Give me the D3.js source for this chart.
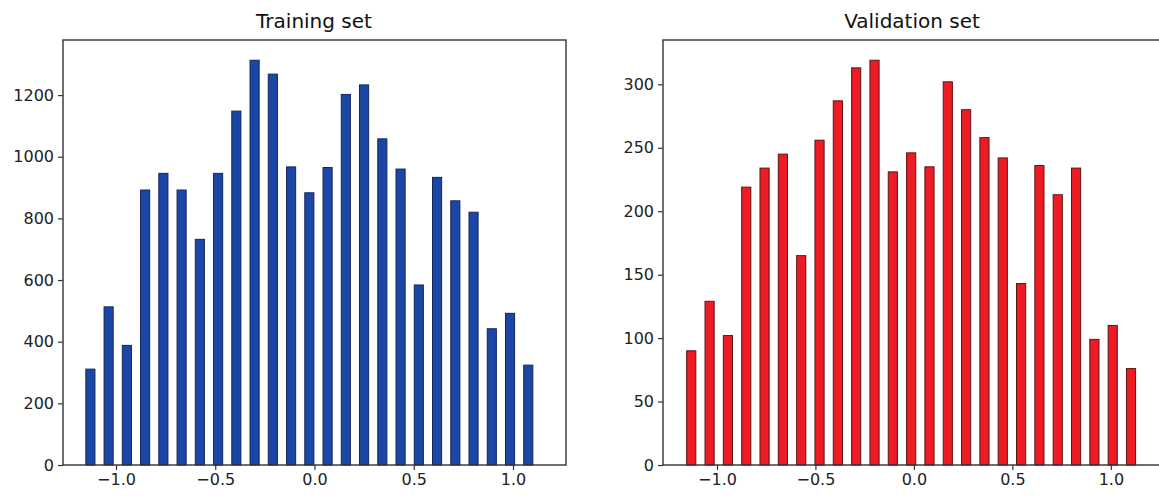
<!DOCTYPE html>
<html>
<head>
<meta charset="utf-8">
<script src="https://cdn.jsdelivr.net/npm/d3@7"></script>
<style>
  html, body { margin: 0; padding: 0; background: #fff; }
  svg { display: block; }
  .title { font-family: "DejaVu Sans", sans-serif; font-size: 20px; fill: #111; }
  .axis text { font-family: "DejaVu Sans", sans-serif; font-size: 16px; fill: #222; }
  .axis path, .axis line { stroke: #333; stroke-width: 1.2px; }
</style>
</head>
<body>
<svg id="chart" width="1159" height="499"></svg>
<script>
// Histogram counts per bin (25 bins each)
const trainCounts = [311, 513, 388, 892, 946, 892, 732, 946, 1148, 1313, 1268, 967, 883,
                     965, 1202, 1233, 1058, 960, 584, 933, 857, 820, 442, 492, 324];
const valCounts = [90, 129, 102, 219, 234, 245, 165, 256, 287, 313, 319, 231, 246,
                   235, 302, 280, 258, 242, 143, 236, 213, 234, 99, 110, 76];

// Histogram bin ranges [first edge, last edge]
const trainBinRange = [-1.175, 1.123];
const valBinRange = [-1.177, 1.149];
const binCount = 25;

// Tick values
const xTicks = [-1.0, -0.5, 0.0, 0.5, 1.0];
const trainYTicks = [0, 200, 400, 600, 800, 1000, 1200];
const valYTicks = [0, 50, 100, 150, 200, 250, 300];

const titles = ["Training set", "Validation set"];

const svg = d3.select("#chart");

const panels = [
  { title: titles[0], counts: trainCounts, range: trainBinRange, yTicks: trainYTicks,
    left: 63, right: 566, titleX: 314, xDomain: [-1.267, 1.267], fill: "#1c46a6", edge: "#14265e" },
  { title: titles[1], counts: valCounts, range: valBinRange, yTicks: valYTicks,
    left: 663, right: 1166, titleX: 912, xDomain: [-1.274, 1.28], fill: "#ec1b24", edge: "#5e1414" }
];

const plotTop = 40, plotBottom = 465;
const rwidth = 0.5;

panels.forEach(p => {
  const g = svg.append("g");
  const x = d3.scaleLinear().domain(p.xDomain).range([p.left, p.right]);
  const y = d3.scaleLinear().domain([0, d3.max(p.counts) * 1.05]).range([plotBottom, plotTop]);

  const binW = (p.range[1] - p.range[0]) / binCount;
  const bins = p.counts.map((c, i) => {
    const x0 = p.range[0] + i * binW;
    return { x0, x1: x0 + binW, count: c };
  });

  // bars, each occupying the middle half of its bin
  g.selectAll("rect.bar")
    .data(bins)
    .join("rect")
    .attr("class", "bar")
    .attr("x", d => x(d.x0 + binW * (1 - rwidth) / 2))
    .attr("width", d => x(d.x0 + binW * (1 + rwidth) / 2) - x(d.x0 + binW * (1 - rwidth) / 2))
    .attr("y", d => y(d.count))
    .attr("height", d => y(0) - y(d.count))
    .attr("fill", p.fill)
    .attr("stroke", p.edge)
    .attr("stroke-width", 1);

  // frame
  g.append("rect")
    .attr("x", p.left).attr("y", plotTop)
    .attr("width", p.right - p.left).attr("height", plotBottom - plotTop)
    .attr("fill", "none").attr("stroke", "#333").attr("stroke-width", 1.4);

  // axes
  g.append("g")
    .attr("class", "axis")
    .attr("transform", `translate(0,${plotBottom})`)
    .call(d3.axisBottom(x).tickValues(xTicks).tickFormat(d3.format(".1f")).tickSize(5).tickPadding(4))
    .call(a => a.select(".domain").remove());

  g.append("g")
    .attr("class", "axis")
    .attr("transform", `translate(${p.left},0)`)
    .call(d3.axisLeft(y).tickValues(p.yTicks).tickFormat(d3.format("d")).tickSize(5).tickPadding(4))
    .call(a => a.select(".domain").remove());

  g.append("text")
    .attr("class", "title")
    .attr("x", p.titleX)
    .attr("y", 28)
    .attr("text-anchor", "middle")
    .text(p.title);
});
</script>
</body>
</html>
